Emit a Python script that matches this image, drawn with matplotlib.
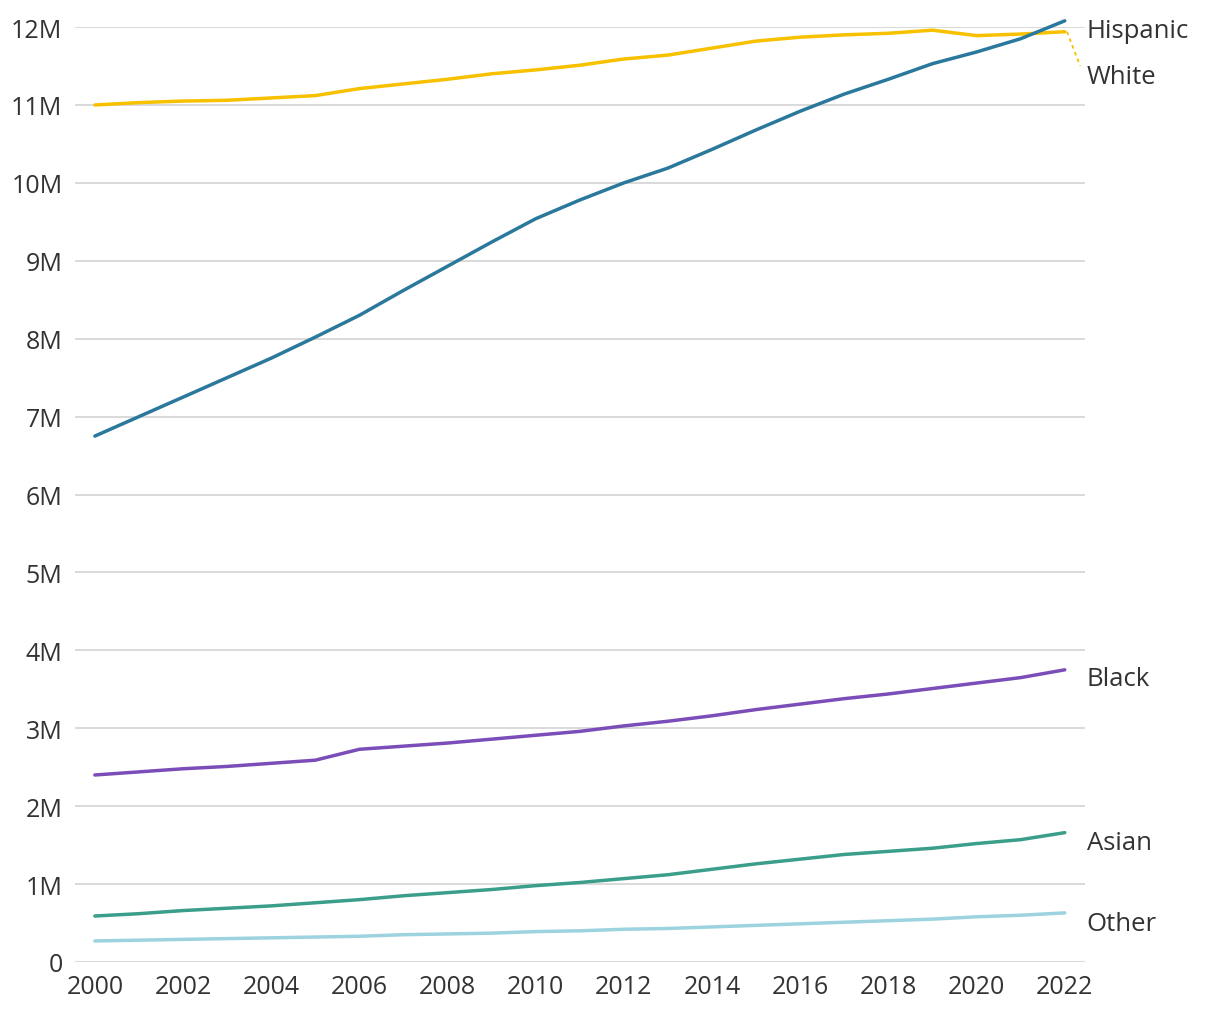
import numpy as np
import matplotlib.pyplot as plt
from matplotlib.ticker import FuncFormatter

plt.rcParams['font.family'] = ['Open Sans', 'DejaVu Sans']

# DATA (millions)
years = np.arange(2000, 2023)
hispanic = [6.75, 7.00, 7.25, 7.50, 7.75, 8.02, 8.30, 8.62, 8.93, 9.24, 9.54, 9.78,
            10.00, 10.19, 10.43, 10.68, 10.92, 11.14, 11.33, 11.53, 11.68, 11.85, 12.08]
white = [11.00, 11.03, 11.05, 11.06, 11.09, 11.12, 11.21, 11.27, 11.33, 11.40, 11.45, 11.51,
         11.59, 11.64, 11.73, 11.82, 11.87, 11.90, 11.92, 11.96, 11.89, 11.91, 11.94]
black = [2.40, 2.44, 2.48, 2.51, 2.55, 2.59, 2.73, 2.77, 2.81, 2.86, 2.91, 2.96,
         3.03, 3.09, 3.16, 3.24, 3.31, 3.38, 3.44, 3.51, 3.58, 3.65, 3.75]
asian = [0.59, 0.62, 0.66, 0.69, 0.72, 0.76, 0.80, 0.85, 0.89, 0.93, 0.98, 1.02,
         1.07, 1.12, 1.19, 1.26, 1.32, 1.38, 1.42, 1.46, 1.52, 1.57, 1.66]
other = [0.27, 0.28, 0.29, 0.30, 0.31, 0.32, 0.33, 0.35, 0.36, 0.37, 0.39, 0.40,
         0.42, 0.43, 0.45, 0.47, 0.49, 0.51, 0.53, 0.55, 0.58, 0.60, 0.63]

series = [
    ("White", white, "#F7C100"),
    ("Hispanic", hispanic, "#2B789D"),
    ("Black", black, "#7B4DB8"),
    ("Asian", asian, "#3A9E8B"),
    ("Other", other, "#9DD3DF"),
]
# label y-positions (millions) after de-overlapping
label_y = {"Hispanic": 11.95, "White": 11.36, "Black": 3.64, "Asian": 1.53, "Other": 0.5}

fig = plt.figure(figsize=(12.2, 10.2), dpi=100)
ax = fig.add_axes([0.0615, 0.0559, 0.8275, 0.9166])

for name, vals, col in series:
    ax.plot(years, vals, color=col, lw=2.5, clip_on=False, solid_capstyle='round', zorder=3)
    ax.text(2022.5, label_y[name], name, fontsize=18.5, color='#333333', va='center', ha='left')

# dotted leader from White line end to its label
ax.plot([2022.05, 2022.35], [white[-1], 11.5], color="#F7C100", lw=1.3, ls=(0, (2, 2)), clip_on=False)

ax.set_xlim(1999.55, 2022.45)
ax.set_ylim(0, 12)
ax.set_yticks(range(0, 13))
ax.yaxis.set_major_formatter(FuncFormatter(lambda v, p: "0" if v == 0 else f"{int(v)}M"))
ax.set_xticks(range(2000, 2023, 2))
ax.grid(axis='y', color='#D0D0D0', lw=1.1)
ax.set_axisbelow(True)
for s in ax.spines.values():
    s.set_visible(False)
ax.tick_params(length=0, labelsize=18, colors='#333333')
ax.tick_params(axis='y', pad=9)
ax.tick_params(axis='x', pad=9)

fig.savefig("out.png", dpi=100)
